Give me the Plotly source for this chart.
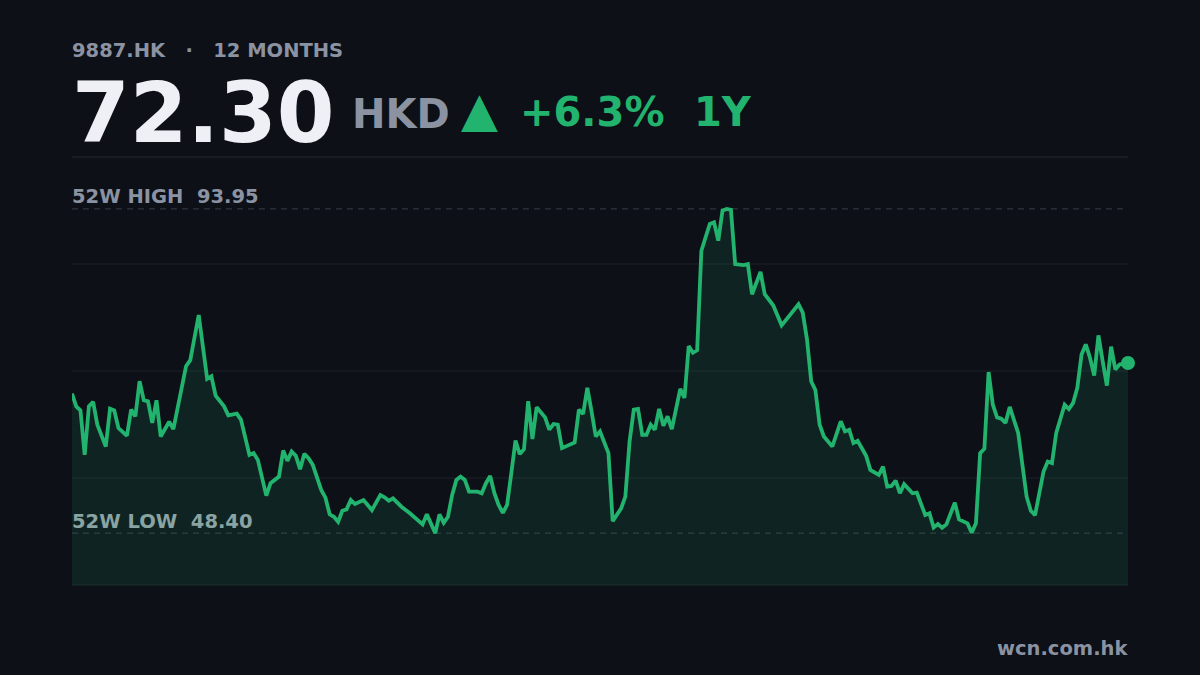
import plotly.graph_objects as go

# ---------------- data ----------------
ticker = "9887.HK"
period_label = "12 MONTHS"
currency = "HKD"
last_price = 72.30
change_pct = "+6.3%"
change_period = "1Y"
high_52w = 93.95
low_52w = 48.40
site = "wcn.com.hk"

days = [0, 1, 2, 3, 4, 5, 6, 8, 9, 10, 11, 13, 14, 15, 16, 17, 18, 19, 20, 21,
        23, 24, 27, 28, 30, 32, 33, 34, 36, 37, 39, 40, 42, 43, 44, 45, 46, 47, 49, 50,
        51, 52, 53, 54, 55, 56, 57, 59, 60, 61, 62, 63, 64, 65, 66, 67, 69, 71, 73, 74,
        75, 76, 78, 80, 82, 83, 84, 85, 86, 87, 88, 89, 90, 91, 92, 93, 94, 96, 97, 98,
        99, 100, 101, 102, 103, 104, 105, 106, 107, 108, 109, 110, 112, 113, 114, 115, 116, 119, 120, 121,
        122, 123, 124, 125, 127, 128, 130, 131, 132, 133, 134, 135, 136, 137, 138, 139, 140, 141, 142, 144,
        145, 146, 147, 148, 149, 150, 151, 152, 153, 154, 155, 156, 157, 159, 160, 161, 163, 164, 166, 168,
        170, 172, 173, 174, 175, 176, 177, 178, 180, 182, 183, 184, 185, 186, 188, 189, 191, 192, 193, 194,
        195, 196, 197, 199, 200, 202, 203, 204, 205, 206, 207, 209, 210, 212, 213, 214, 215, 216, 217, 218,
        219, 220, 221, 222, 224, 226, 227, 228, 229, 230, 231, 232, 233, 235, 236, 237, 238, 239, 240, 241,
        242, 243, 244, 245, 246, 247, 248, 250]

prices = [68.00, 66.21, 65.65, 59.40, 66.21, 66.83, 63.63, 60.57, 65.89, 65.65, 63.16, 62.08, 65.75, 64.80, 69.74, 67.06, 66.92, 63.87, 67.06, 61.98,
          64.05, 63.02, 71.85, 72.70, 79.04, 70.07, 70.44, 67.72, 66.21, 64.94, 65.18, 64.34, 59.40, 59.64, 58.69, 56.34, 53.66, 55.41, 56.34, 60.01,
          58.55, 59.86, 59.26, 57.38, 59.54, 58.93, 57.99, 54.46, 53.38, 51.04, 50.70, 49.99, 51.54, 51.74, 53.05, 52.49, 53.05, 51.64, 53.76, 53.43,
          52.95, 53.29, 52.11, 51.18, 50.23, 49.63, 51.04, 49.85, 48.40, 51.04, 49.85, 50.70, 53.76, 55.87, 56.34, 55.87, 54.22, 54.22, 54.00, 55.41,
          56.44, 54.00, 52.35, 51.26, 52.35, 56.82, 61.42, 59.50, 60.20, 66.92, 61.61, 66.07, 64.66, 62.93, 63.73, 63.63, 60.34, 61.13, 65.75, 65.14,
          68.81, 65.51, 61.98, 62.69, 59.64, 50.09, 51.88, 53.52, 61.28, 65.75, 65.84, 62.22, 62.22, 63.63, 62.93, 65.84, 63.49, 64.80, 63.02, 68.66,
          67.40, 74.67, 73.74, 74.11, 88.07, 89.96, 91.83, 92.07, 89.48, 93.71, 93.95, 93.81, 86.19, 86.05, 86.19, 81.96, 85.11, 81.96, 80.41, 77.59,
          79.14, 80.55, 79.38, 75.62, 69.74, 68.47, 63.63, 61.98, 60.57, 64.10, 62.69, 62.93, 61.05, 61.37, 59.26, 57.28, 56.58, 57.75, 54.93, 55.03,
          55.78, 54.00, 55.27, 54.00, 54.08, 50.94, 51.18, 49.20, 49.67, 49.15, 49.63, 52.67, 50.33, 49.77, 48.45, 49.77, 59.64, 60.25, 71.03, 66.45,
          64.66, 64.48, 63.87, 66.13, 62.46, 53.52, 51.54, 50.94, 54.00, 57.04, 58.45, 58.23, 62.46, 66.45, 65.84, 66.69, 68.81, 73.50, 74.91, 73.04,
          70.54, 76.18, 72.56, 69.13, 74.59, 71.39, 72.09, 72.30]

# ---------------- style ----------------
BG = "#0d1017"
GREEN = "#22b46e"
FILL = "rgba(34,180,110,0.13)"
GREY = "#8b93a3"
WHITE = "#eef0f6"
GRID = "#1c2029"
DASH = "#373d48"
FONT = "DejaVu Sans"
SMALL = 19.5

X0, X1 = 72 / 1200, 1128 / 1200
Y_BOTTOM = (675 - 585) / 675
Y_TOP = (675 - 157) / 675
TXT_L = 70 / 1200
TXT_R = 1130 / 1200


def py(y_px):
    return (675 - y_px) / 675


pad = (high_52w - low_52w) * 0.16
y_lo, y_hi = low_52w - pad, high_52w + pad

fig = go.Figure()
fig.add_trace(go.Scatter(
    x=days, y=prices, mode="lines",
    line=dict(color=GREEN, width=3.8, shape="linear"),
    fill="tozeroy", fillcolor=FILL, hoverinfo="skip", showlegend=False,
))
fig.add_trace(go.Scatter(
    x=[days[-1]], y=[prices[-1]], mode="markers",
    marker=dict(color=GREEN, size=14), cliponaxis=False,
    hoverinfo="skip", showlegend=False,
))

shapes = []
for frac in [0.25, 0.5, 0.75]:
    shapes.append(dict(type="line", xref="x domain", yref="y domain", x0=0, x1=1, y0=frac, y1=frac,
                       line=dict(color=GRID, width=1), layer="below"))
shapes.append(dict(type="line", xref="x domain", yref="y domain", x0=0, x1=1, y0=1, y1=1,
                   line=dict(color=GRID, width=1.5), layer="below"))
shapes.append(dict(type="line", xref="x domain", yref="y domain", x0=0, x1=1, y0=0, y1=0,
                   line=dict(color="#1a2f2a", width=1), layer="above"))
for val in [high_52w, low_52w]:
    shapes.append(dict(type="line", xref="x domain", yref="y", x0=0, x1=1, y0=val, y1=val,
                       line=dict(color=DASH, width=1, dash="6px,5px"), layer="below"))

annotations = [
    dict(text=f"{ticker}   \u00b7   {period_label}", x=TXT_L, y=py(50), xanchor="left", yanchor="middle",
         font=dict(family=FONT, size=SMALL, color=GREY, weight="bold")),
    dict(text=f"{last_price:.2f}", x=TXT_L, y=py(114), xanchor="left", yanchor="middle",
         font=dict(family=FONT, size=83, color=WHITE, weight="bold")),
    dict(text=currency, x=350 / 1200, y=py(114), xanchor="left", yanchor="middle",
         font=dict(family=FONT, size=40, color=GREY, weight="bold")),
    dict(text="\u25b2", x=459 / 1200, y=py(109), xanchor="left", yanchor="middle",
         font=dict(family=FONT, size=48, color=GREEN, weight="bold")),
    dict(text=change_pct, x=518 / 1200, y=py(112), xanchor="left", yanchor="middle",
         font=dict(family=FONT, size=40, color=GREEN, weight="bold")),
    dict(text=change_period, x=692 / 1200, y=py(112), xanchor="left", yanchor="middle",
         font=dict(family=FONT, size=40, color=GREEN, weight="bold")),
    dict(text=f"52W HIGH  {high_52w:.2f}", x=TXT_L, y=py(197), xanchor="left", yanchor="middle",
         font=dict(family=FONT, size=SMALL, color=GREY, weight="bold")),
    dict(text=f"52W LOW  {low_52w:.2f}", x=TXT_L, y=py(521), xanchor="left", yanchor="middle",
         font=dict(family=FONT, size=SMALL, color="#8aa3a3", weight="bold")),
    dict(text=site, x=TXT_R, y=py(648), xanchor="right", yanchor="middle",
         font=dict(family=FONT, size=SMALL, color=GREY, weight="bold")),
]
for a in annotations:
    a.update(xref="paper", yref="paper", showarrow=False)

fig.update_layout(
    width=1200, height=675,
    margin=dict(l=0, r=0, t=0, b=0),
    paper_bgcolor=BG, plot_bgcolor=BG,
    xaxis=dict(domain=[X0, X1], range=[days[0], days[-1]], visible=False, fixedrange=True),
    yaxis=dict(domain=[Y_BOTTOM, Y_TOP], range=[y_lo, y_hi], visible=False, fixedrange=True),
    shapes=shapes, annotations=annotations, showlegend=False,
)

fig.write_html(
    "out.html",
    config={"displayModeBar": False},
    post_script=(
        "document.body.style.margin='0';document.body.style.padding='0';"
        "document.body.style.background='" + BG + "';"
        "document.body.style.overflow='hidden';"
    ),
)
